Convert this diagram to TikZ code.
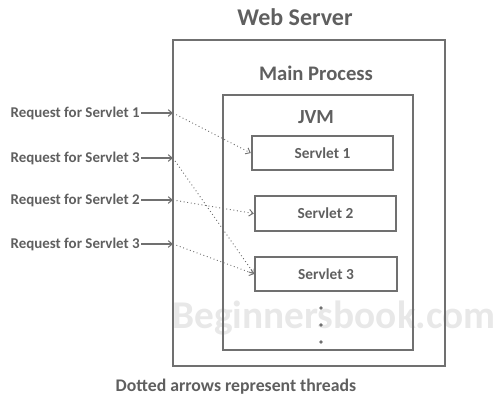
\documentclass[tikz,border=0pt]{standalone}
\usepackage{fontspec}
\setmainfont{Carlito}
\usetikzlibrary{arrows.meta}

\definecolor{linegray}{RGB}{112,112,112}
\definecolor{textgray}{RGB}{95,95,95}
\definecolor{markgray}{RGB}{232,232,232}

\tikzset{
  box/.style={draw=linegray, line width=1.6pt},
  servletbox/.style={draw=linegray, line width=1.6pt, minimum width=106pt, minimum height=26pt, inner sep=0pt, font=\fontsize{11.5}{13}\selectfont\bfseries, text=textgray},
  reqtext/.style={anchor=east, inner sep=0.75pt, font=\fontsize{11.2}{13}\selectfont\bfseries, text=textgray},
  title/.style={inner sep=0.75pt, text=textgray, font=\bfseries},
  feed/.style={draw=linegray, line width=0.8pt, -{Straight Barb[length=3pt,width=5pt]}},
  thread/.style={draw=linegray, line width=0.7pt, dotted, -{Straight Barb[length=3pt,width=5pt]}}
}

\begin{document}
\begin{tikzpicture}[x=0.75pt,y=0.75pt,yscale=-1,xscale=1]
\useasboundingbox (0,0) rectangle (499,405);

% watermark
\node [text=markgray, inner sep=0pt, font=\fontsize{29.5}{32}\selectfont\bfseries] (mark) at (334,318) {Beginnersbook.com};

%Shape: Rectangle [web server]
\draw [box] (173,40) rectangle (445,366);
%Shape: Rectangle [jvm]
\draw [box] (223,95) rectangle (413,350);

% Text Node
\node [title, font=\fontsize{18}{21}\selectfont\bfseries] (web) at (295,17) {Web Server};
\node [title, font=\fontsize{15.5}{18}\selectfont\bfseries] (main) at (316,73) {Main Process};
\node [title, font=\fontsize{15}{18}\selectfont\bfseries] (jvm) at (316,117) {JVM};

% servlets
\node [servletbox] (s1) at (322.5,153) {Servlet 1};
\node [servletbox] (s2) at (325.5,213.5) {Servlet 2};
\node [servletbox] (s3) at (326,274) {Servlet 3};

% dots below servlet 3
\foreach \y [count=\i] in {308,325,342}
  \fill [linegray] (321,\y) circle [radius=1.8] coordinate (d\i);

% requests
\node [reqtext] (r1) at (141,113) {Request for Servlet 1};
\node [reqtext] (r2) at (141,158) {Request for Servlet 3};
\node [reqtext] (r3) at (141,200) {Request for Servlet 2};
\node [reqtext] (r4) at (141,244) {Request for Servlet 3};

\coordinate (in1) at (173,113);
\coordinate (in2) at (173,158);
\coordinate (in3) at (173,200);
\coordinate (in4) at (173,244);

\draw [feed] (r1.east) -- (in1);
\draw [feed] (r2.east) -- (in2);
\draw [feed] (r3.east) -- (in3);
\draw [feed] (r4.east) -- (in4);

% threads
\draw [thread] (in1) -- (s1.west);
\draw [thread] (in2) -- (s3.west);
\draw [thread] (in3) -- (s2.west);
\draw [thread] (in4) -- (s3.west);

% caption
\node [inner sep=0.75pt, text=textgray, font=\fontsize{13.3}{15}\selectfont\bfseries] (cap) at (236,387) {Dotted arrows represent threads};

\end{tikzpicture}
\end{document}
